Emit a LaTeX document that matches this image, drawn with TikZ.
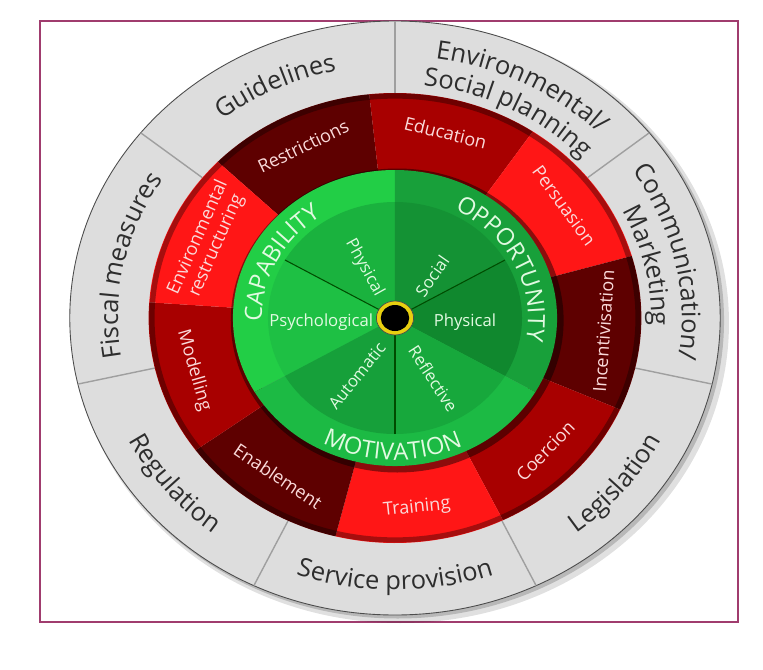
\documentclass[tikz,border=0pt]{standalone}
\usepackage{fontspec}
\setmainfont{Open Sans}
\usetikzlibrary{decorations.text}
\definecolor{framecol}{RGB}{160,60,110}
\definecolor{ringgrey}{RGB}{221,221,221}
\definecolor{greytext}{RGB}{45,45,45}
\definecolor{reddark}{RGB}{94,0,0}
\definecolor{redmid}{RGB}{168,0,0}
\definecolor{redlight}{RGB}{255,22,22}
\definecolor{redtext}{RGB}{250,218,218}
\definecolor{capband}{RGB}{34,206,70}
\definecolor{capphys}{RGB}{26,178,62}
\definecolor{cappsy}{RGB}{30,192,68}
\definecolor{oppband}{RGB}{24,160,58}
\definecolor{oppsoc}{RGB}{20,146,52}
\definecolor{oppphys}{RGB}{16,136,46}
\definecolor{motband}{RGB}{28,186,68}
\definecolor{motauto}{RGB}{22,160,58}
\definecolor{motrefl}{RGB}{23,168,60}
\definecolor{greentext}{RGB}{225,250,225}
\definecolor{hubyellow}{RGB}{232,208,16}

\begin{document}
\begin{tikzpicture}[
        greylab/.style={decorate, decoration={text along path, text align=center,
            text={|\fontsize{14.5}{17}\selectfont\color{greytext}|#1}}},
        comblab/.style={decorate, decoration={text along path, text align=center,
            text={|\fontsize{13.5}{16}\selectfont\color{greentext}|#1}}},
        redlab/.style={font=\fontsize{10.3}{11.5}\selectfont, text=redtext, align=center, inner sep=0pt},
        sublab/.style={font=\fontsize{9.5}{10}\selectfont, text=greentext, inner sep=0pt}
    ]
    \useasboundingbox (-7.9,-7.02) rectangle (7.36,6.36);
    \draw[framecol, line width=1.1pt] (-7.1,-6.08) rectangle (6.86,5.94);

    \begin{scope}[xscale=1.095]
        % outer ring: policy categories
        \fill[black, opacity=0.12] (0.1,-0.1) circle (6.0);
        \fill[black, opacity=0.18] (0.05,-0.05) circle (5.96);
        \fill[ringgrey] (0,0) circle (5.94);
        \draw[gray!60!black, line width=0.5pt] (0,0) circle (5.94);
        \foreach \a in {0,...,6}
            \draw[gray!75, line width=0.8pt] ({90+\a*360/7}:4.5) -- ({90+\a*360/7}:5.94);

        % middle ring: intervention functions
        \foreach \a/\col in {96/reddark, 56/redmid, 16/redlight, -24/reddark, -64/redmid,
                -104/redlight, -144/reddark, -184/redmid, -224/redlight}
            \fill[\col] (\a:2.9) -- (\a:4.5) arc[start angle=\a, end angle=\a+40, radius=4.5] -- ({\a+40}:2.9) -- cycle;
        \draw[black, opacity=0.35, line width=3pt] (0,0) circle (4.44);

        % COM-B wheel
        \fill[black, opacity=0.45] (0.04,-0.05) circle (3.04);
        \foreach \a/\col in {90/capband, -30/oppband, 210/motband}
            \fill[\col] (0,0) -- (\a:2.96) arc[start angle=\a, end angle=\a+120, radius=2.96] -- cycle;
        \foreach \a/\col in {90/capphys, 150/cappsy, 30/oppsoc, -30/oppphys, 210/motauto, 270/motrefl}
            \fill[\col] (0,0) -- (\a:2.32) arc[start angle=\a, end angle=\a+60, radius=2.32] -- cycle;
        \foreach \a in {30,150,270}
            \draw[green!30!black, line width=0.6pt] (0,0) -- (\a:2.32);
        \fill[hubyellow, draw=black!70, line width=0.4pt] (0,0) circle (0.34);
        \fill[black] (0,0) circle (0.26);

        % policy labels
        \path[greylab=Guidelines] (145.7:5.06) arc[start angle=145.7, end angle=85.7, radius=5.06];
        \path[greylab=Environmental/] (93:5.24) arc[start angle=93, end angle=33, radius=5.24];
        \path[greylab=Social planning] (93:4.68) arc[start angle=93, end angle=33, radius=4.68];
        \path[greylab=Communication/] (42.5:5.24) arc[start angle=42.5, end angle=-17.5, radius=5.24];
        \path[greylab=Marketing] (42.5:4.68) arc[start angle=42.5, end angle=-17.5, radius=4.68];
        \path[greylab=Fiscal measures] (198:5.06) arc[start angle=198, end angle=138, radius=5.06];
        \path[greylab=Legislation] (-69:5.44) arc[start angle=-69, end angle=-9, radius=5.44];
        \path[greylab=Service provision] (-125:5.44) arc[start angle=-125, end angle=-55, radius=5.44];
        \path[greylab=Regulation] (189:5.44) arc[start angle=189, end angle=249, radius=5.44];

        % intervention labels
        \node[redlab, rotate=26] (restr) at (116:3.82) {Restrictions};
        \node[redlab, rotate=-14] (educ) at (76:3.82) {Education};
        \node[redlab, rotate=-54] (pers) at (36:3.82) {Persuasion};
        \node[redlab, rotate=86] (incent) at (-4:3.82) {Incentivisation};
        \node[redlab, rotate=46] (coerc) at (-44:3.82) {Coercion};
        \node[redlab, rotate=6] (train) at (-84:3.82) {Training};
        \node[redlab, rotate=-34] (enabl) at (236:3.82) {Enablement};
        \node[redlab, rotate=-74] (model) at (196:3.82) {Modelling};
        \node[redlab, rotate=66] (envres) at (156:3.75) {Environmental\\restructuring};

        % COM-B labels
        \path[comblab=CAPABILITY] (198:2.43) arc[start angle=198, end angle=108, radius=2.43];
        \path[comblab=OPPORTUNITY] (71:2.43) arc[start angle=71, end angle=-19, radius=2.43];
        \path[comblab=MOTIVATION] (224:2.84) arc[start angle=224, end angle=314, radius=2.84];

        \node[sublab, rotate=-61] (capphy) at (119:1.15) {Physical};
        \node[sublab] (cappsy) at (183.4:1.35) {Psychological};
        \node[sublab, rotate=55] (oppsoc) at (51:1.08) {Social};
        \node[sublab] (oppphy) at (-3.6:1.28) {Physical};
        \node[sublab, rotate=51] (motaut) at (239:1.35) {Automatic};
        \node[sublab, rotate=-57] (motref) at (-60:1.4) {Reflective};
    \end{scope}
\end{tikzpicture}
\end{document}
